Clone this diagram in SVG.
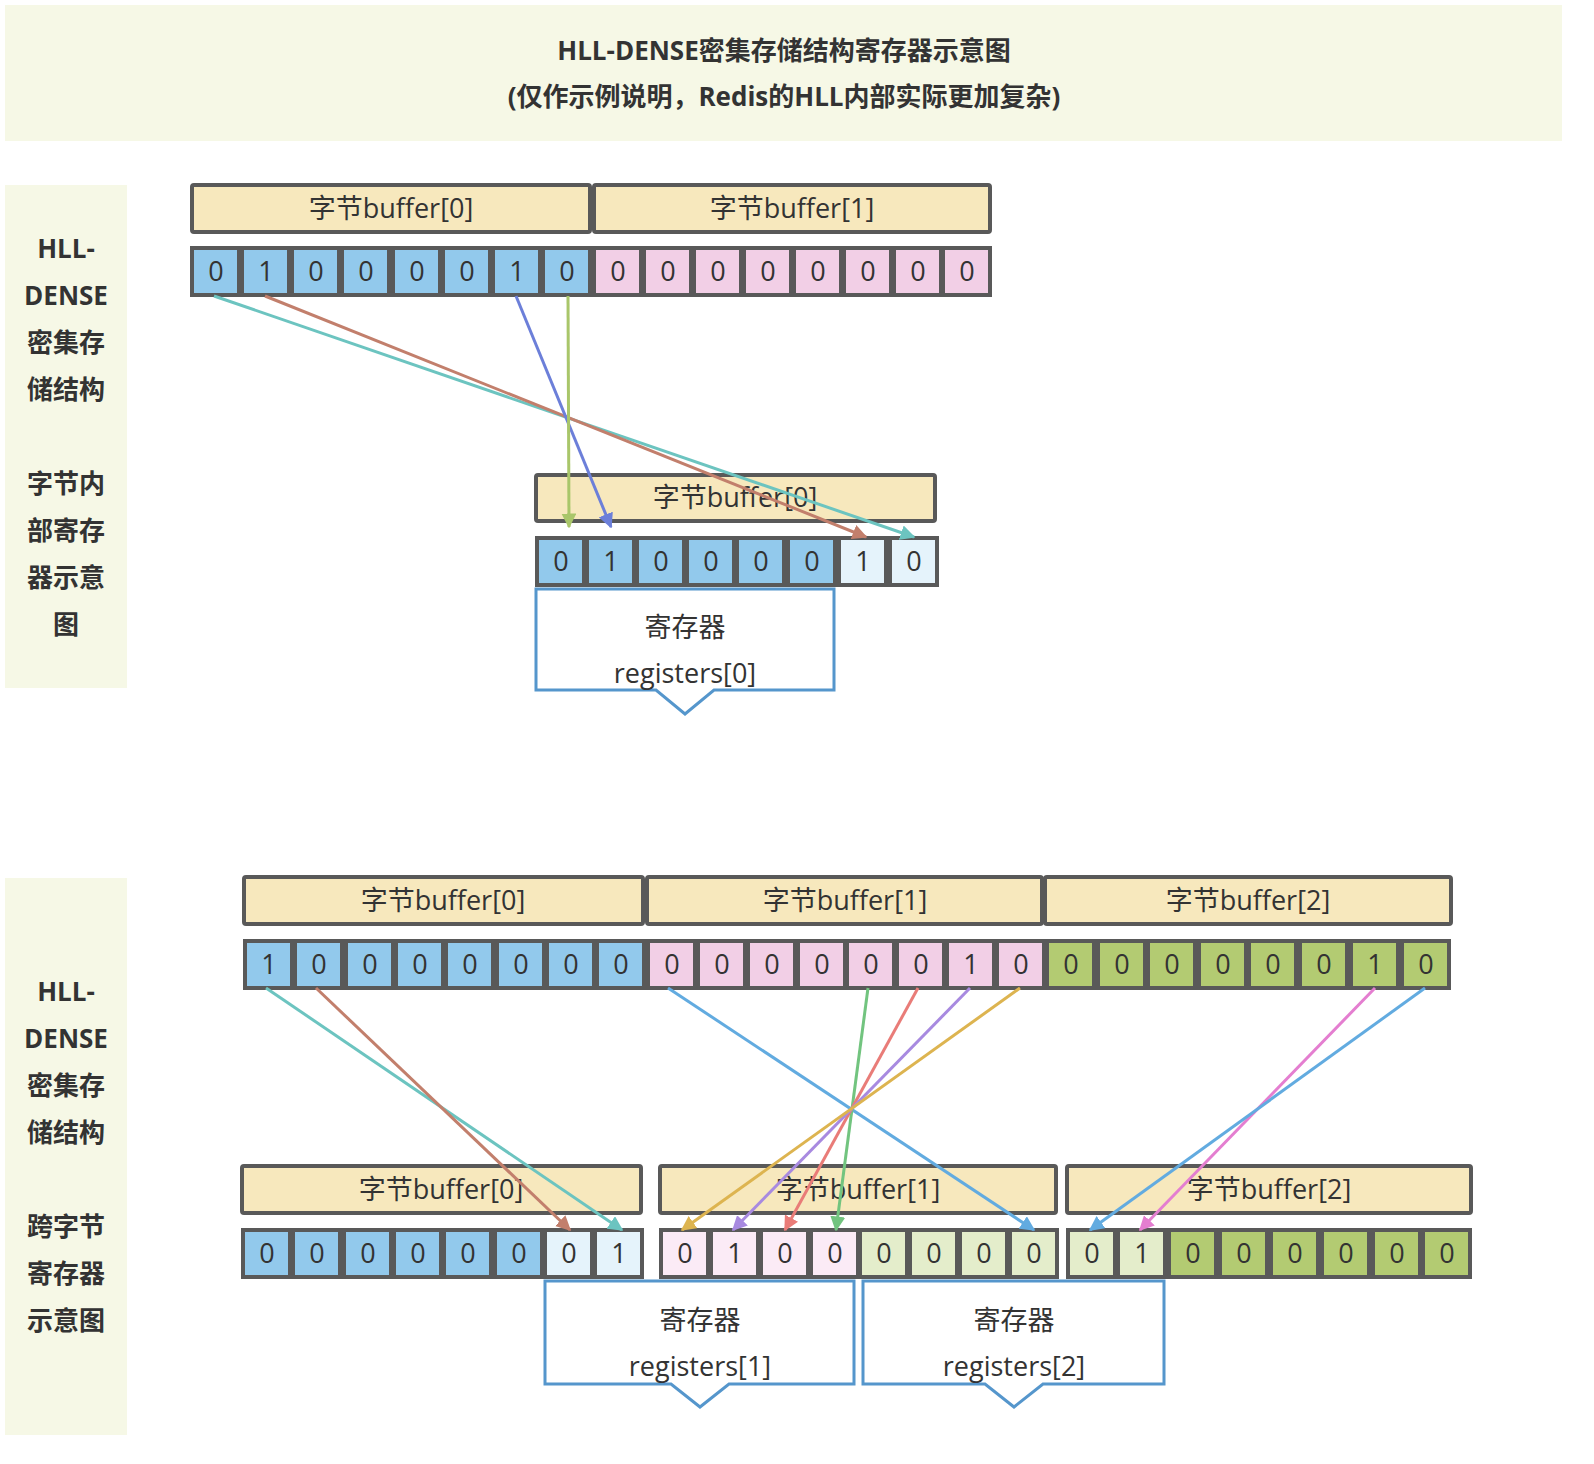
<svg xmlns="http://www.w3.org/2000/svg" width="1594" height="1464" viewBox="0 0 1594 1464">
<style>
text{font-family:"Open Sans","Noto Sans CJK SC",sans-serif;fill:#333;text-anchor:middle}
.t{font-size:26px;font-weight:bold}
.l{font-size:26px;font-weight:bold}
.c{font-size:27px}
.bf{fill:#f7e8bd;stroke:#595959;stroke-width:4}
.b{fill:#92c9ec;stroke:#595959;stroke-width:4}
.lb{fill:#e5f3fb;stroke:#595959;stroke-width:4}
.p{fill:#f2cfe6;stroke:#595959;stroke-width:4}
.lp{fill:#fbebf6;stroke:#595959;stroke-width:4}
.g{fill:#b3cb72;stroke:#595959;stroke-width:4}
.lg{fill:#e4edcb;stroke:#595959;stroke-width:4}
.reg{fill:#fff;stroke:#5596cc;stroke-width:3}
.bg{fill:#f6f8e6}
.a{stroke-width:3;fill:none}
</style>
<defs>
<marker id="m" viewBox="0 0 10 10" refX="9" refY="5" markerWidth="5" markerHeight="5" orient="auto" markerUnits="strokeWidth"><path d="M0,0L10,5L0,10z" fill="context-stroke"/></marker>
</defs>
<g id="title"><rect class="bg" x="5" y="5" width="1557" height="136"/>
<text class="t" x="784" y="60">HLL-DENSE密集存储结构寄存器示意图</text>
<text class="t" x="784" y="106">(仅作示例说明，Redis的HLL内部实际更加复杂)</text></g>
<g id="side1"><rect class="bg" x="5" y="185" width="122" height="503"/>
<text class="l" x="66" y="258">HLL-</text><text class="l" x="66" y="305">DENSE</text><text class="l" x="66" y="352">密集存</text><text class="l" x="66" y="399">储结构</text>
<text class="l" x="66" y="493">字节内</text><text class="l" x="66" y="540">部寄存</text><text class="l" x="66" y="587">器示意</text><text class="l" x="66" y="634">图</text></g>
<g id="side2"><rect class="bg" x="5" y="878" width="122" height="557"/>
<text class="l" x="66" y="1001">HLL-</text><text class="l" x="66" y="1048">DENSE</text><text class="l" x="66" y="1095">密集存</text><text class="l" x="66" y="1142">储结构</text>
<text class="l" x="66" y="1236">跨字节</text><text class="l" x="66" y="1283">寄存器</text><text class="l" x="66" y="1330">示意图</text></g>

<g id="top-buffers">
<rect class="bf" x="192" y="185" width="398" height="47" rx="2"/><text class="c" x="391" y="218">字节buffer[0]</text>
<rect class="bf" x="594" y="185" width="396" height="47" rx="2"/><text class="c" x="792" y="218">字节buffer[1]</text>
</g>
<g id="top-cells">
<rect class="b" x="192" y="248" width="47" height="47"/><text class="c" x="216" y="281">0</text>
<rect class="b" x="242" y="248" width="47" height="47"/><text class="c" x="266" y="281">1</text>
<rect class="b" x="292" y="248" width="47" height="47"/><text class="c" x="316" y="281">0</text>
<rect class="b" x="342" y="248" width="47" height="47"/><text class="c" x="366" y="281">0</text>
<rect class="b" x="393" y="248" width="47" height="47"/><text class="c" x="417" y="281">0</text>
<rect class="b" x="443" y="248" width="47" height="47"/><text class="c" x="467" y="281">0</text>
<rect class="b" x="493" y="248" width="47" height="47"/><text class="c" x="517" y="281">1</text>
<rect class="b" x="543" y="248" width="47" height="47"/><text class="c" x="567" y="281">0</text>
<rect class="p" x="594" y="248" width="47" height="47"/><text class="c" x="618" y="281">0</text>
<rect class="p" x="644" y="248" width="47" height="47"/><text class="c" x="668" y="281">0</text>
<rect class="p" x="694" y="248" width="47" height="47"/><text class="c" x="718" y="281">0</text>
<rect class="p" x="744" y="248" width="47" height="47"/><text class="c" x="768" y="281">0</text>
<rect class="p" x="794" y="248" width="47" height="47"/><text class="c" x="818" y="281">0</text>
<rect class="p" x="844" y="248" width="47" height="47"/><text class="c" x="868" y="281">0</text>
<rect class="p" x="894" y="248" width="47" height="47"/><text class="c" x="918" y="281">0</text>
<rect class="p" x="943" y="248" width="47" height="47"/><text class="c" x="967" y="281">0</text>
</g>
<g id="mid-buffer"><rect class="bf" x="536" y="475" width="399" height="46" rx="2"/><text class="c" x="735" y="507">字节buffer[0]</text></g>
<g id="mid-cells">
<rect class="b" x="537" y="538" width="47" height="47"/><text class="c" x="561" y="571">0</text>
<rect class="b" x="587" y="538" width="47" height="47"/><text class="c" x="611" y="571">1</text>
<rect class="b" x="637" y="538" width="47" height="47"/><text class="c" x="661" y="571">0</text>
<rect class="b" x="687" y="538" width="47" height="47"/><text class="c" x="711" y="571">0</text>
<rect class="b" x="737" y="538" width="47" height="47"/><text class="c" x="761" y="571">0</text>
<rect class="b" x="788" y="538" width="47" height="47"/><text class="c" x="812" y="571">0</text>
<rect class="lb" x="839" y="538" width="47" height="47"/><text class="c" x="863" y="571">1</text>
<rect class="lb" x="890" y="538" width="47" height="47"/><text class="c" x="914" y="571">0</text>
</g>
<g id="reg0"><path class="reg" d="M536,589H834V690H714L685,714L656,690H536Z"/><text class="c" x="685" y="637">寄存器</text><text class="c" x="685" y="683">registers[0]</text></g>

<g id="bot-buffers">
<rect class="bf" x="244" y="877" width="399" height="47" rx="2"/><text class="c" x="443" y="910">字节buffer[0]</text>
<rect class="bf" x="647" y="877" width="395" height="47" rx="2"/><text class="c" x="845" y="910">字节buffer[1]</text>
<rect class="bf" x="1045" y="877" width="406" height="47" rx="2"/><text class="c" x="1248" y="910">字节buffer[2]</text>
</g>
<g id="bot-cells">
<rect class="b" x="245" y="941" width="47" height="47"/><text class="c" x="269" y="974">1</text>
<rect class="b" x="295" y="941" width="47" height="47"/><text class="c" x="319" y="974">0</text>
<rect class="b" x="346" y="941" width="47" height="47"/><text class="c" x="370" y="974">0</text>
<rect class="b" x="396" y="941" width="47" height="47"/><text class="c" x="420" y="974">0</text>
<rect class="b" x="446" y="941" width="47" height="47"/><text class="c" x="470" y="974">0</text>
<rect class="b" x="497" y="941" width="47" height="47"/><text class="c" x="521" y="974">0</text>
<rect class="b" x="547" y="941" width="47" height="47"/><text class="c" x="571" y="974">0</text>
<rect class="b" x="597" y="941" width="47" height="47"/><text class="c" x="621" y="974">0</text>
<rect class="p" x="648" y="941" width="47" height="47"/><text class="c" x="672" y="974">0</text>
<rect class="p" x="698" y="941" width="47" height="47"/><text class="c" x="722" y="974">0</text>
<rect class="p" x="748" y="941" width="47" height="47"/><text class="c" x="772" y="974">0</text>
<rect class="p" x="798" y="941" width="47" height="47"/><text class="c" x="822" y="974">0</text>
<rect class="p" x="847" y="941" width="47" height="47"/><text class="c" x="871" y="974">0</text>
<rect class="p" x="897" y="941" width="47" height="47"/><text class="c" x="921" y="974">0</text>
<rect class="p" x="947" y="941" width="47" height="47"/><text class="c" x="971" y="974">1</text>
<rect class="p" x="997" y="941" width="47" height="47"/><text class="c" x="1021" y="974">0</text>
<rect class="g" x="1047" y="941" width="47" height="47"/><text class="c" x="1071" y="974">0</text>
<rect class="g" x="1098" y="941" width="47" height="47"/><text class="c" x="1122" y="974">0</text>
<rect class="g" x="1148" y="941" width="47" height="47"/><text class="c" x="1172" y="974">0</text>
<rect class="g" x="1199" y="941" width="47" height="47"/><text class="c" x="1223" y="974">0</text>
<rect class="g" x="1249" y="941" width="47" height="47"/><text class="c" x="1273" y="974">0</text>
<rect class="g" x="1300" y="941" width="47" height="47"/><text class="c" x="1324" y="974">0</text>
<rect class="g" x="1351" y="941" width="47" height="47"/><text class="c" x="1375" y="974">1</text>
<rect class="g" x="1402" y="941" width="47" height="47"/><text class="c" x="1426" y="974">0</text>
</g>
<g id="low-buffers">
<rect class="bf" x="242" y="1166" width="399" height="47" rx="2"/><text class="c" x="441" y="1199">字节buffer[0]</text>
<rect class="bf" x="660" y="1166" width="396" height="47" rx="2"/><text class="c" x="858" y="1199">字节buffer[1]</text>
<rect class="bf" x="1067" y="1166" width="404" height="47" rx="2"/><text class="c" x="1269" y="1199">字节buffer[2]</text>
</g>
<g id="low-cells">
<rect class="b" x="243" y="1230" width="47" height="47"/><text class="c" x="267" y="1263">0</text>
<rect class="b" x="293" y="1230" width="47" height="47"/><text class="c" x="317" y="1263">0</text>
<rect class="b" x="344" y="1230" width="47" height="47"/><text class="c" x="368" y="1263">0</text>
<rect class="b" x="394" y="1230" width="47" height="47"/><text class="c" x="418" y="1263">0</text>
<rect class="b" x="444" y="1230" width="47" height="47"/><text class="c" x="468" y="1263">0</text>
<rect class="b" x="495" y="1230" width="47" height="47"/><text class="c" x="519" y="1263">0</text>
<rect class="lb" x="545" y="1230" width="47" height="47"/><text class="c" x="569" y="1263">0</text>
<rect class="lb" x="595" y="1230" width="47" height="47"/><text class="c" x="619" y="1263">1</text>
<rect class="lp" x="661" y="1230" width="47" height="47"/><text class="c" x="685" y="1263">0</text>
<rect class="lp" x="711" y="1230" width="47" height="47"/><text class="c" x="735" y="1263">1</text>
<rect class="lp" x="761" y="1230" width="47" height="47"/><text class="c" x="785" y="1263">0</text>
<rect class="lp" x="811" y="1230" width="47" height="47"/><text class="c" x="835" y="1263">0</text>
<rect class="lg" x="860" y="1230" width="47" height="47"/><text class="c" x="884" y="1263">0</text>
<rect class="lg" x="910" y="1230" width="47" height="47"/><text class="c" x="934" y="1263">0</text>
<rect class="lg" x="960" y="1230" width="47" height="47"/><text class="c" x="984" y="1263">0</text>
<rect class="lg" x="1010" y="1230" width="47" height="47"/><text class="c" x="1034" y="1263">0</text>
<rect class="lg" x="1068" y="1230" width="47" height="47"/><text class="c" x="1092" y="1263">0</text>
<rect class="lg" x="1118" y="1230" width="47" height="47"/><text class="c" x="1142" y="1263">1</text>
<rect class="g" x="1169" y="1230" width="47" height="47"/><text class="c" x="1193" y="1263">0</text>
<rect class="g" x="1220" y="1230" width="47" height="47"/><text class="c" x="1244" y="1263">0</text>
<rect class="g" x="1271" y="1230" width="47" height="47"/><text class="c" x="1295" y="1263">0</text>
<rect class="g" x="1322" y="1230" width="47" height="47"/><text class="c" x="1346" y="1263">0</text>
<rect class="g" x="1373" y="1230" width="47" height="47"/><text class="c" x="1397" y="1263">0</text>
<rect class="g" x="1423" y="1230" width="47" height="47"/><text class="c" x="1447" y="1263">0</text>
</g>
<g id="reg1"><path class="reg" d="M545,1281H854V1384H729L700,1407L671,1384H545Z"/><text class="c" x="700" y="1330">寄存器</text><text class="c" x="700" y="1376">registers[1]</text></g>
<g id="reg2"><path class="reg" d="M863,1281H1164V1384H1043L1014,1407L985,1384H863Z"/><text class="c" x="1014" y="1330">寄存器</text><text class="c" x="1014" y="1376">registers[2]</text></g>

<g id="connectors" class="a" marker-end="url(#m)">
<line x1="214" y1="296" x2="914" y2="537" stroke="#6cc4c0"/>
<line x1="265" y1="296" x2="866" y2="537" stroke="#c27f6c"/>
<line x1="516" y1="296" x2="611" y2="527" stroke="#6c7fd9"/>
<line x1="568" y1="296" x2="569" y2="527" stroke="#a9c66a"/>
<line x1="266" y1="988" x2="622" y2="1230" stroke="#6cc4c0"/>
<line x1="316" y1="988" x2="570" y2="1230" stroke="#c27f6c"/>
<line x1="668" y1="988" x2="1034" y2="1230" stroke="#62abe0"/>
<line x1="868" y1="988" x2="836" y2="1230" stroke="#72c47f"/>
<line x1="918" y1="988" x2="785" y2="1230" stroke="#e97c78"/>
<line x1="970" y1="988" x2="733" y2="1230" stroke="#a88ae0"/>
<line x1="1020" y1="988" x2="682" y2="1230" stroke="#ddb450"/>
<line x1="1375" y1="988" x2="1140" y2="1230" stroke="#e47ed0"/>
<line x1="1425" y1="988" x2="1090" y2="1230" stroke="#62abe0"/>
</g>
</svg>
